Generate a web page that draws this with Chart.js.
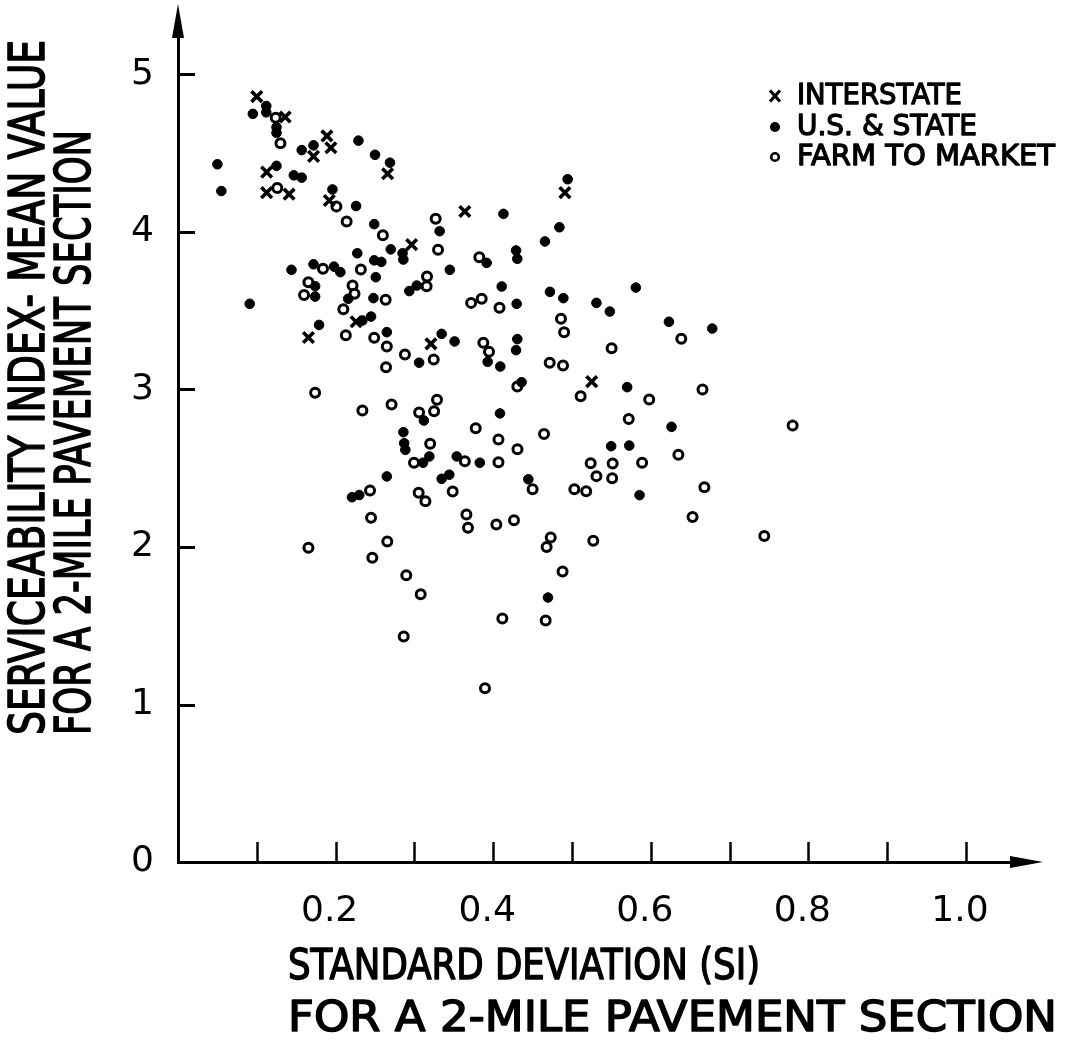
<!DOCTYPE html>
<html><head><meta charset="utf-8">
<script src="https://cdn.jsdelivr.net/npm/chart.js@4.4.1/dist/chart.umd.min.js"></script>
<style>html,body{margin:0;padding:0;background:#fff;}#wrap{width:1068px;height:1050px;}</style>
</head><body><div id="wrap"><canvas id="c" width="1068" height="1050"></canvas></div>
<script>
// ---- DATA ----
const seriesLabels = ['INTERSTATE', 'U.S. & STATE', 'FARM TO MARKET'];

const interstateX = [0.100, 0.136, 0.189, 0.194, 0.172, 0.1125, 0.1125, 0.141, 0.192, 0.266, 0.364, 0.2965, 0.491, 0.226, 0.1655, 0.321, 0.525];
const interstateY = [4.86, 4.73, 4.61, 4.535, 4.48, 4.38, 4.25, 4.24, 4.20, 4.37, 4.13, 3.92, 4.25, 3.43, 3.33, 3.29, 3.05];

const usStateX = [0.095, 0.112, 0.112, 0.125, 0.125, 0.229, 0.172, 0.157, 0.050, 0.055, 0.125, 0.147, 0.157, 0.196, 0.226, 0.250, 0.269, 0.332, 0.249, 0.2275, 0.270, 0.285, 0.286, 0.249, 0.258, 0.345, 0.144, 0.172, 0.198, 0.206, 0.251, 0.174, 0.174, 0.091, 0.216, 0.248, 0.234, 0.245, 0.179, 0.265, 0.306, 0.3346, 0.351, 0.2935, 0.303, 0.312, 0.286, 0.287, 0.2885, 0.319, 0.311, 0.3537, 0.265, 0.3443, 0.3346, 0.2208, 0.230, 0.4945, 0.413, 0.484, 0.4657, 0.3917, 0.429, 0.4306, 0.4108, 0.4298, 0.472, 0.489, 0.531, 0.548, 0.581, 0.623, 0.678, 0.393, 0.409, 0.4306, 0.429, 0.436, 0.570, 0.6263, 0.4086, 0.5497, 0.5727, 0.5857, 0.383, 0.4446, 0.4695];
const usStateY = [4.75, 4.80, 4.76, 4.665, 4.63, 4.58, 4.55, 4.52, 4.43, 4.26, 4.42, 4.36, 4.345, 4.27, 4.165, 4.49, 4.44, 4.005, 4.05, 3.865, 3.89, 3.865, 3.825, 3.82, 3.81, 3.76, 3.76, 3.795, 3.78, 3.745, 3.713, 3.656, 3.59, 3.544, 3.576, 3.58, 3.438, 3.463, 3.41, 3.364, 3.17, 3.353, 3.305, 3.625, 3.66, 2.803, 2.729, 2.659, 2.617, 2.575, 2.535, 2.575, 2.448, 2.459, 2.433, 2.316, 2.33, 4.335, 4.115, 4.03, 3.94, 3.804, 3.883, 3.83, 3.654, 3.544, 3.62, 3.58, 3.55, 3.495, 3.647, 3.43, 3.387, 3.176, 3.146, 3.32, 3.25, 3.046, 3.015, 2.763, 2.848, 2.64, 2.644, 2.329, 2.535, 2.43, 1.679];

const farmX = [0.124, 0.130, 0.126, 0.201, 0.214, 0.327, 0.330, 0.260, 0.184, 0.232, 0.316, 0.1655, 0.160, 0.2215, 0.224, 0.2635, 0.2098, 0.213, 0.249, 0.265, 0.288, 0.264, 0.3245, 0.3155, 0.174, 0.234, 0.271, 0.3287, 0.306, 0.325, 0.320, 0.2995, 0.364, 0.2437, 0.3054, 0.314, 0.3486, 0.366, 0.368, 0.245, 0.1655, 0.2656, 0.2466, 0.2897, 0.308, 0.2864, 0.3824, 0.372, 0.3854, 0.408, 0.6387, 0.486, 0.49, 0.5503, 0.3875, 0.3947, 0.4717, 0.4886, 0.4306, 0.598, 0.6656, 0.511, 0.572, 0.3778, 0.4067, 0.4308, 0.4645, 0.5237, 0.5516, 0.589, 0.635, 0.531, 0.551, 0.668, 0.503, 0.518, 0.4067, 0.45, 0.404, 0.4264, 0.473, 0.4678, 0.527, 0.653, 0.488, 0.4116, 0.4666, 0.3896, 0.78, 0.744];
const farmY = [4.725, 4.564, 4.28, 4.162, 4.067, 4.084, 3.887, 3.98, 3.766, 3.762, 3.717, 3.681, 3.60, 3.66, 3.608, 3.57, 3.51, 3.345, 3.328, 3.273, 3.222, 3.142, 3.19, 3.655, 2.979, 2.867, 2.905, 2.935, 2.854, 2.862, 2.655, 2.535, 2.545, 2.359, 2.344, 2.29, 2.352, 2.206, 2.122, 2.185, 1.995, 2.035, 1.932, 1.82, 1.70, 1.432, 3.84, 3.55, 3.576, 3.519, 3.322, 3.449, 3.364, 3.262, 3.297, 3.24, 3.17, 3.152, 3.019, 2.937, 3.0, 2.957, 2.813, 2.754, 2.682, 2.62, 2.717, 2.532, 2.53, 2.535, 2.585, 2.45, 2.437, 2.38, 2.367, 2.354, 2.538, 2.367, 2.143, 2.17, 2.06, 2.0, 2.04, 2.19, 1.844, 1.546, 1.533, 1.103, 2.771, 2.07];

const xTickValues = [0.1, 0.2, 0.3, 0.4, 0.5, 0.6, 0.7, 0.8, 0.9, 1.0];
const xTickLabels = ['', '0.2', '', '0.4', '', '0.6', '', '0.8', '', '1.0'];
const yTickValues = [0, 1, 2, 3, 4, 5];
const yTickLabels = ['0', '1', '2', '3', '4', '5'];

const xTitleLines = ['STANDARD DEVIATION (SI)', 'FOR A 2-MILE PAVEMENT SECTION'];
const yTitleLines = ['SERVICEABILITY INDEX- MEAN VALUE', 'FOR A 2-MILE PAVEMENT SECTION'];

// ---- CHART ----
const FONT = "'DejaVu Sans', 'Liberation Sans', sans-serif";
const toPts = (xs, ys) => xs.map((x, i) => ({ x: x, y: ys[i] }));

function drawFit(ctx, text, x, y, width, font, weight) {
  ctx.save();
  ctx.font = font;
  const w = ctx.measureText(text).width;
  ctx.translate(x, y);
  ctx.scale(width / w, 1);
  ctx.textAlign = 'left';
  ctx.textBaseline = 'middle';
  ctx.fillText(text, 0, 0);
  ctx.lineWidth = weight;
  ctx.lineJoin = 'round';
  ctx.strokeText(text, 0, 0);
  ctx.restore();
}

const decor = {
  id: 'decor',
  beforeDraw(chart) {
    const ctx = chart.ctx;
    ctx.save();
    ctx.fillStyle = '#fff';
    ctx.fillRect(0, 0, chart.width, chart.height);
    ctx.restore();
  },
  afterDraw(chart) {
    const ctx = chart.ctx;
    const xs = chart.scales.x, ys = chart.scales.y;
    const a = chart.chartArea;
    ctx.save();
    ctx.strokeStyle = '#000';
    ctx.fillStyle = '#000';
    // inward tick marks
    ctx.lineWidth = 2.5;
    xs.ticks.forEach(t => {
      const px = Math.round(xs.getPixelForValue(t.value)) + 0.5;
      ctx.beginPath(); ctx.moveTo(px, a.bottom); ctx.lineTo(px, a.bottom - 20); ctx.stroke();
    });
    ctx.lineWidth = 3;
    ys.ticks.forEach(t => {
      if (t.value === 0) return;
      const py = Math.round(ys.getPixelForValue(t.value)) + 0.5;
      ctx.beginPath(); ctx.moveTo(a.left, py); ctx.lineTo(a.left + 17, py); ctx.stroke();
    });
    // arrow heads
    ctx.beginPath();
    ctx.moveTo(a.left, 4); ctx.lineTo(a.left - 6, 38); ctx.lineTo(a.left + 6, 38); ctx.closePath(); ctx.fill();
    ctx.beginPath();
    ctx.moveTo(1043, a.bottom); ctx.lineTo(1010, a.bottom - 6); ctx.lineTo(1010, a.bottom + 6); ctx.closePath(); ctx.fill();

    // y-axis title (two rotated lines)
    const yFont = '50px ' + FONT;
    [[31, 695], [77, 605]].forEach((p, i) => {
      ctx.save();
      ctx.translate(p[0], 735);
      ctx.rotate(-Math.PI / 2);
      drawFit(ctx, yTitleLines[i], 0, 0, p[1], yFont, 1.6);
      ctx.restore();
    });
    // x-axis title
    const xFont = '42px ' + FONT;
    drawFit(ctx, xTitleLines[0], 288, 968, 472, xFont, 1.5);
    drawFit(ctx, xTitleLines[1], 288, 1020, 769, xFont, 1.5);

    // legend
    const lgFont = '29px ' + FONT;
    const rows = [96, 127, 157];
    const widths = [165, 180, 258];
    rows.forEach((ry, i) => {
      const mx = 775;
      ctx.save();
      if (i === 0) {
        ctx.lineWidth = 3.2; ctx.lineCap = 'butt';
        ctx.beginPath(); ctx.moveTo(mx - 5, ry - 5.5); ctx.lineTo(mx + 5, ry + 5.5);
        ctx.moveTo(mx + 5, ry - 5.5); ctx.lineTo(mx - 5, ry + 5.5); ctx.stroke();
      } else if (i === 1) {
        ctx.beginPath(); ctx.arc(mx, ry, 5, 0, Math.PI * 2); ctx.fill();
      } else {
        ctx.lineWidth = 2.6;
        ctx.beginPath(); ctx.arc(mx, ry, 3.8, 0, Math.PI * 2); ctx.stroke();
      }
      ctx.restore();
      drawFit(ctx, seriesLabels[i], 797, ry, widths[i], lgFont, 1.3);
    });
    ctx.restore();
  }
};

const zeroPad = s => { s.paddingTop = 0; s.paddingBottom = 0; s.paddingLeft = 0; s.paddingRight = 0; };

new Chart(document.getElementById('c'), {
  type: 'scatter',
  data: {
    datasets: [
      { label: seriesLabels[0], data: toPts(interstateX, interstateY), pointStyle: 'crossRot',
        radius: 7.5, borderWidth: 3.6, borderColor: '#000', backgroundColor: '#000' },
      { label: seriesLabels[1], data: toPts(usStateX, usStateY), pointStyle: 'circle',
        radius: 4.8, borderWidth: 1, borderColor: '#000', backgroundColor: '#000' },
      { label: seriesLabels[2], data: toPts(farmX, farmY), pointStyle: 'circle',
        radius: 4.5, borderWidth: 3, borderColor: '#000', backgroundColor: '#fff' }
    ]
  },
  options: {
    responsive: false,
    devicePixelRatio: 1,
    animation: false,
    events: [],
    layout: { padding: { top: 20, right: 53, left: 0, bottom: 0 } },
    plugins: { legend: { display: false }, tooltip: { enabled: false } },
    scales: {
      x: {
        type: 'linear', position: 'bottom', min: 0, max: (1015 - 178) / 788,
        afterFit: s => { s.height = 188; zeroPad(s); },
        afterBuildTicks: s => { s.ticks = xTickValues.map(v => ({ value: v })); },
        grid: { display: true, drawOnChartArea: false, drawTicks: false },
        border: { display: true, color: '#000', width: 3 },
        ticks: { autoSkip: false, maxRotation: 0, minRotation: 0, padding: 28, labelOffset: -6, color: '#000',
          font: { family: FONT, size: 36 },
          callback: (v, i) => xTickLabels[i] }
      },
      y: {
        type: 'linear', position: 'left', min: 0, max: (862 - 20) / 157.5,
        afterFit: s => { s.width = 178; zeroPad(s); },
        afterBuildTicks: s => { s.ticks = yTickValues.map(v => ({ value: v })); },
        grid: { display: true, drawOnChartArea: false, drawTicks: false },
        border: { display: true, color: '#000', width: 3 },
        ticks: { autoSkip: false, padding: 24, color: '#000',
          font: { family: FONT, size: 36 },
          callback: (v, i) => yTickLabels[i] }
      }
    }
  },
  plugins: [decor]
});
</script>
</body></html>
